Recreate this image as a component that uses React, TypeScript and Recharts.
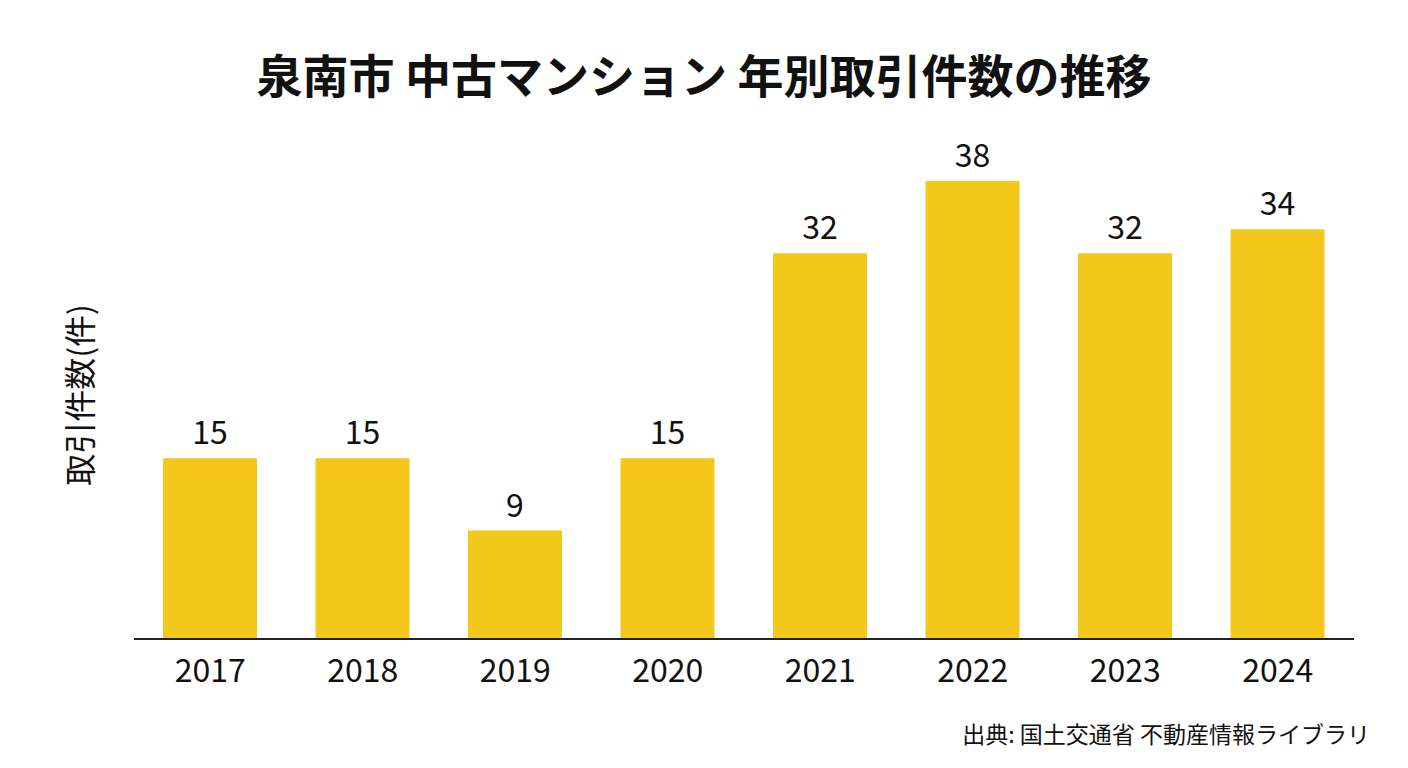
import { BarChart, Bar, XAxis, YAxis, LabelList } from 'recharts';

const years = ['2017', '2018', '2019', '2020', '2021', '2022', '2023', '2024'];
const counts = [15, 15, 9, 15, 32, 38, 32, 34];

const title = '泉南市 中古マンション 年別取引件数の推移';
const yLabel = '取引件数(件)';
const source = '出典: 国土交通省 不動産情報ライブラリ';

const font = '"Noto Sans CJK JP", "Noto Sans", sans-serif';

export default function App() {
  const data = years.map((y, i) => ({ year: y, count: counts[i] }));

  return (
    <div style={{ position: 'absolute', left: 0, top: 0, width: 1408, height: 768, background: '#fff', fontFamily: font }}>
      <div style={{ position: 'absolute', top: 40, width: 1408, textAlign: 'center', fontSize: 46, fontWeight: 700, color: '#111' }}>
        {title}
      </div>
      <div
        style={{
          position: 'absolute',
          left: 78,
          top: 395,
          transform: 'translate(-50%, -50%) rotate(-90deg)',
          fontSize: 32,
          color: '#111',
          whiteSpace: 'nowrap',
        }}
      >
        {yLabel}
      </div>
      <div style={{ position: 'absolute', right: 38, top: 716, fontSize: 23, color: '#111' }}>{source}</div>
      <BarChart width={1408} height={768} data={data} margin={{ top: 181, right: 54, left: 134, bottom: 99 }}>
        <XAxis
          dataKey="year"
          tickLine={false}
          axisLine={{ stroke: '#222', strokeWidth: 2 }}
          tick={{ fontSize: 32, fill: '#111', fontFamily: font }}
          tickMargin={14}
        />
        <YAxis hide domain={[0, 38]} />
        <Bar dataKey="count" fill="#F2C81B" barSize={94} isAnimationActive={false}>
          <LabelList dataKey="count" position="top" offset={14} style={{ fontSize: 32, fill: '#111', fontFamily: font }} />
        </Bar>
      </BarChart>
    </div>
  );
}
